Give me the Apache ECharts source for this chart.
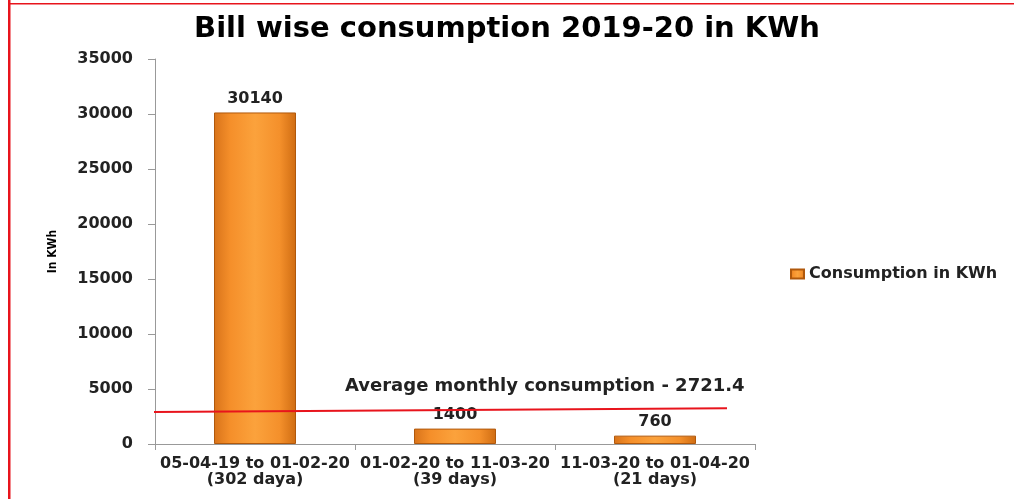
<!DOCTYPE html>
<html><head><meta charset="utf-8">
<script src="https://cdn.jsdelivr.net/npm/echarts@6/dist/echarts.min.js"></script>
<style>html,body{margin:0;padding:0;background:#fff}#c{width:1014px;height:499px}</style>
</head><body><div id="c"></div>
<script>
const categories = ['05-04-19 to 01-02-20\n(302 daya)', '01-02-20 to 11-03-20\n(39 days)', '11-03-20 to 01-04-20\n(21 days)'];
const consumption = [30140, 1400, 760];
const yTicks = {min: 0, max: 35000, interval: 5000};
const averageValue = 2721.4;
// drawn average line endpoints: [x position in category units, value]
const averageLine = [[-0.035, 2900], [2.86, 3250]];
const titleText = 'Bill wise consumption 2019-20 in KWh';
const seriesName = 'Consumption in KWh';
const avgLabel = 'Average monthly consumption - ' + averageValue;

const chart = echarts.init(document.getElementById('c'));
const barColor = new echarts.graphic.LinearGradient(0, 0, 1, 0, [
  {offset: 0, color: '#D8731A'},
  {offset: 0.2, color: '#F58F2A'},
  {offset: 0.5, color: '#FBA23C'},
  {offset: 0.8, color: '#F4902B'},
  {offset: 1, color: '#CF6C12'}
]);
const txt = {fontFamily: 'DejaVu Sans', fontWeight: 'bold', fontSize: 16, color: '#222'};
chart.setOption({
  animation: false,
  backgroundColor: '#fff',
  title: {text: titleText, left: 'center', top: 10,
    textStyle: {fontFamily: 'DejaVu Sans', fontWeight: 'bold', fontSize: 29, color: '#000'}},
  legend: {
    data: [{name: seriesName, icon: 'rect'}], left: 785, top: 261, orient: 'vertical',
    itemWidth: 13, itemHeight: 9, itemGap: 6,
    textStyle: Object.assign({}, txt, {fontSize: 16})
  },
  grid: {left: 155, right: 259, top: 59, bottom: 55},
  xAxis: [{
    type: 'category', data: categories,
    axisLine: {lineStyle: {color: '#999'}},
    axisTick: {show: true, length: 6, lineStyle: {color: '#999'}},
    axisLabel: Object.assign({}, txt, {fontSize: 16, lineHeight: 16, margin: 12, interval: 0})
  }, {
    type: 'value', min: 0, max: 3, show: false
  }],
  yAxis: {
    type: 'value', min: yTicks.min, max: yTicks.max, interval: yTicks.interval,
    name: 'In KWh', nameLocation: 'middle', nameGap: 96, nameRotate: 90,
    nameTextStyle: {fontFamily: 'DejaVu Sans Condensed', fontWeight: 'bold', fontSize: 12, color: '#000'},
    axisLine: {show: true, lineStyle: {color: '#999'}},
    axisTick: {show: true, length: 7, lineStyle: {color: '#999'}},
    splitLine: {show: false},
    axisLabel: Object.assign({}, txt, {fontSize: 16, margin: 22, formatter: v => String(v)})
  },
  series: [{
    name: seriesName, type: 'bar', data: consumption, barWidth: 82,
    itemStyle: {color: barColor, borderColor: '#B0580C', borderWidth: 1},
    label: Object.assign({show: true, position: 'top', distance: 6}, txt, {fontSize: 16})
  }, {
    name: 'avg', type: 'line', xAxisIndex: 1, data: averageLine, clip: false,
    symbol: 'none', lineStyle: {color: '#E8141C', width: 2}, silent: true
  }],
  graphic: [
    {type: 'text', left: 345, top: 377, style: {text: avgLabel,
      font: 'bold 18px "DejaVu Sans"', fill: '#222'}},
    {type: 'rect', shape: {x: 8, y: 0, width: 2.5, height: 499}, style: {fill: '#E8141C'}},
    {type: 'rect', shape: {x: 8, y: 3, width: 1006, height: 1.5}, style: {fill: '#E8141C'}}
  ]
});
</script></body></html>
